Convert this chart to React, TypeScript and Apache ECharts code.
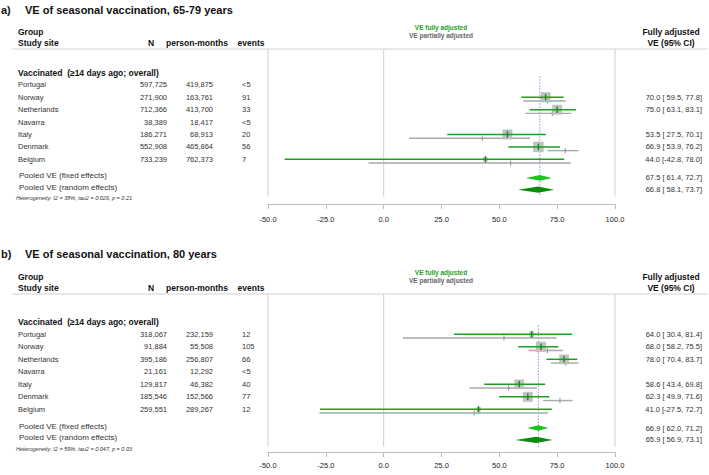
import React, { useEffect, useRef } from "react";
import * as echarts from "echarts";

// ---------- data ----------
const sites = ["Portugal", "Norway", "Netherlands", "Navarra", "Italy", "Denmark", "Belgium"];
const panelTitles = ["VE of seasonal vaccination, 65-79 years", "VE of seasonal vaccination, 80 years"];
const panelLetters = ["a)", "b)"];
const xTicks = [-50, -25, 0, 25, 50, 75, 100];

// panel a (65-79 years)
const nA = [597725, 271900, 712366, 38389, 186271, 552908, 733239];
const pmA = [419875, 163761, 413700, 18417, 68913, 465864, 762373];
const evA = ["<5", "91", "33", "<5", "20", "56", "7"];
const fullEstA = [null, 70.0, 75.0, null, 53.5, 66.9, 44.0];
const fullLoA = [null, 59.5, 63.1, null, 27.5, 53.9, -42.8];
const fullHiA = [null, 77.8, 83.1, null, 70.1, 76.2, 78.0];
const partEstA = [null, 70.9, 72.9, null, 42.6, 78.5, 54.9];
const partLoA = [null, 60.4, 61.2, null, 11.0, 70.8, -6.5];
const partHiA = [null, 78.7, 81.1, null, 63.3, 84.2, 80.9];
const weightA = [null, 24, 23, null, 23, 26, 4];
const fixedA = [67.5, 61.4, 72.7];
const randomA = [66.8, 58.1, 73.7];
const hetA = "Heterogeneity: I2 = 38%, tau2 = 0.026, p = 0.21";

// panel b (80 years)
const nB = [318067, 91884, 395186, 21161, 129817, 185546, 259551];
const pmB = [232159, 55508, 256807, 12292, 46382, 152566, 289267];
const evB = ["12", "105", "66", "<5", "40", "77", "12"];
const fullEstB = [64.0, 68.0, 78.0, null, 58.6, 62.3, 41.0];
const fullLoB = [30.4, 58.2, 70.4, null, 43.4, 49.9, -27.5];
const fullHiB = [81.4, 75.5, 83.7, null, 69.8, 71.6, 72.7];
const partEstB = [52.0, 70.8, 78.8, null, 54.0, 76.2, 39.1];
const partLoB = [8.3, 62.7, 72.3, null, 37.0, 69.0, -27.8];
const partHiB = [74.8, 77.4, 84.2, null, 66.3, 81.7, 71.0];
const weightB = [5.5, 23.6, 21.6, null, 21.6, 23.6, 4];
const fixedB = [66.9, 62.0, 71.2];
const randomB = [65.9, 56.9, 73.1];
const hetB = "Heterogeneity: I2 = 59%, tau2 = 0.047, p = 0.03";

// ---------- layout ----------
const FONT = "'Liberation Sans', Arial, Helvetica, sans-serif";
const GREEN = "#1f9e1f";
const layouts = [
  { title: 10, legend1: 27, legend2: 35, head1: 32, head2: 43, hline: 49, row0: 72.5, step: 12.4, axisY: 204, labelMargin: 11 },
  { title: 254, legend1: 272, legend2: 280, head1: 277, head2: 288, hline: 294, row0: 321.8, step: 12.5, axisY: 452, labelMargin: 9 },
];
const PLOT_LEFT = 268;
const PLOT_WIDTH = 347;
const ROW_FIXED = 8.5;
const ROW_RANDOM = 9.45;
const ROW_HET = 10.15;
const ROW_LINE_END = 10.0;
const ROW_REF_START = 0.3;

const panels = [
  { n: nA, pm: pmA, ev: evA, fe: fullEstA, fl: fullLoA, fh: fullHiA, pe: partEstA, pl: partLoA, ph: partHiA, w: weightA, fixed: fixedA, random: randomA, het: hetA },
  { n: nB, pm: pmB, ev: evB, fe: fullEstB, fl: fullLoB, fh: fullHiB, pe: partEstB, pl: partLoB, ph: partHiB, w: weightB, fixed: fixedB, random: randomB, het: hetB },
];

const fmtN = (v: number) => v.toLocaleString("en-US");
const fmtCI = (e: number, l: number, h: number) =>
  `${e.toFixed(1)} [${l < 0 ? "" : " "}${l.toFixed(1)}, ${h.toFixed(1)}]`;

function txt(text: string, x: number, y: number, font: string, fill = "#222", align = "left") {
  return {
    type: "text",
    x,
    y,
    silent: true,
    style: { text, font, fill, align, verticalAlign: "middle" },
  };
}

function buildOption() {
  const grids: any[] = [];
  const xAxes: any[] = [];
  const yAxes: any[] = [];
  const series: any[] = [];
  const graphics: any[] = [];

  panels.forEach((p, pi) => {
    const L = layouts[pi];
    const rowY = (r: number) => L.row0 + r * L.step;
    const yMin = (L.hline - L.row0) / L.step;
    const yMax = (L.axisY - L.row0) / L.step;

    grids.push({ left: PLOT_LEFT, width: PLOT_WIDTH, top: L.hline, height: L.axisY - L.hline, containLabel: false });
    xAxes.push({
      gridIndex: pi,
      type: "value",
      min: xTicks[0],
      max: xTicks[xTicks.length - 1],
      interval: xTicks[1] - xTicks[0],
      position: "bottom",
      axisLine: { show: true, onZero: false, lineStyle: { color: "#bdbdbd", width: 1 } },
      axisTick: { show: true, length: 5, lineStyle: { color: "#bdbdbd", width: 1 } },
      axisLabel: {
        show: true,
        margin: L.labelMargin,
        fontSize: 7.5,
        fontFamily: FONT,
        color: "#222",
        formatter: (v: number) => v.toFixed(1),
      },
      splitLine: { show: false },
    });
    yAxes.push({ gridIndex: pi, type: "value", show: false, inverse: true, min: yMin, max: yMax });

    // reference vertical lines: plot borders and no-effect line
    series.push({
      type: "custom",
      xAxisIndex: pi,
      yAxisIndex: pi,
      silent: true,
      clip: false,
      data: [
        [xTicks[0], yMin, ROW_LINE_END],
        [0, yMin, ROW_LINE_END],
        [xTicks[xTicks.length - 1], yMin, ROW_LINE_END],
      ],
      renderItem: (_params: any, api: any) => {
        const a = api.coord([api.value(0), api.value(1)]);
        const b = api.coord([api.value(0), api.value(2)]);
        return {
          type: "line",
          shape: { x1: a[0], y1: a[1], x2: b[0], y2: b[1] },
          style: { stroke: "#cfcfcf", lineWidth: 1 },
        };
      },
    });
    // pooled estimate dotted line
    series.push({
      type: "custom",
      xAxisIndex: pi,
      yAxisIndex: pi,
      silent: true,
      clip: false,
      data: [[p.fixed[0], ROW_REF_START, ROW_LINE_END]],
      renderItem: (_params: any, api: any) => {
        const a = api.coord([api.value(0), api.value(1)]);
        const b = api.coord([api.value(0), api.value(2)]);
        return {
          type: "line",
          shape: { x1: a[0], y1: a[1], x2: b[0], y2: b[1] },
          style: { stroke: "#8f8fe0", lineWidth: 1, lineDash: [1.5, 1.5] },
        };
      },
    });

    // studies
    const studyData: any[] = [];
    sites.forEach((_s, i) => {
      if (p.fe[i] == null) return;
      studyData.push([i + 1, p.fe[i], p.fl[i], p.fh[i], p.pe[i], p.pl[i], p.ph[i], p.w[i]]);
    });
    series.push({
      type: "custom",
      xAxisIndex: pi,
      yAxisIndex: pi,
      silent: true,
      clip: false,
      data: studyData,
      renderItem: (_params: any, api: any) => {
        const r = api.value(0);
        const off = 0.3;
        const fE = api.coord([api.value(1), r]);
        const fL = api.coord([api.value(2), r]);
        const fH = api.coord([api.value(3), r]);
        const pE = api.coord([api.value(4), r + off]);
        const pL = api.coord([api.value(5), r + off]);
        const pH = api.coord([api.value(6), r + off]);
        const side = Math.sqrt(api.value(7)) * 1.9;
        return {
          type: "group",
          children: [
            { type: "line", shape: { x1: pL[0], y1: pL[1], x2: pH[0], y2: pH[1] }, style: { stroke: "#a9a9a9", lineWidth: 1.4 } },
            { type: "line", shape: { x1: pE[0], y1: pE[1] - 2.6, x2: pE[0], y2: pE[1] + 2.6 }, style: { stroke: "#8f8f8f", lineWidth: 1 } },
            { type: "rect", shape: { x: fE[0] - side / 2, y: fE[1] - side / 2, width: side, height: side }, style: { fill: "#c2c2c2", stroke: "#b4b4b4", lineWidth: 0.6 } },
            { type: "line", shape: { x1: fL[0], y1: fL[1], x2: fH[0], y2: fH[1] }, style: { stroke: GREEN, lineWidth: 1.5 } },
            { type: "line", shape: { x1: fE[0], y1: fE[1] - 3.2, x2: fE[0], y2: fE[1] + 3.2 }, style: { stroke: "#158a15", lineWidth: 1.4 } },
          ],
        };
      },
    });

    // pooled diamonds
    series.push({
      type: "custom",
      xAxisIndex: pi,
      yAxisIndex: pi,
      silent: true,
      clip: false,
      data: [
        [ROW_FIXED, p.fixed[0], p.fixed[1], p.fixed[2], 0],
        [ROW_RANDOM, p.random[0], p.random[1], p.random[2], 1],
      ],
      renderItem: (_params: any, api: any) => {
        const r = api.value(0);
        const e = api.coord([api.value(1), r]);
        const l = api.coord([api.value(2), r]);
        const h = api.coord([api.value(3), r]);
        const kind = api.value(4);
        const hh = kind === 0 ? 2.8 : 3.1;
        return {
          type: "polygon",
          shape: { points: [[l[0], l[1]], [e[0], e[1] - hh], [h[0], h[1]], [e[0], e[1] + hh]] },
          style: { fill: kind === 0 ? "#1cc41c" : "#0b8c0b" },
        };
      },
    });

    // ---------- table text ----------
    const bold = (s: number) => `bold ${s}px ${FONT}`;
    const reg = (s: number) => `${s}px ${FONT}`;
    graphics.push(txt(panelLetters[pi], 1, L.title, bold(11), "#111"));
    graphics.push(txt(panelTitles[pi], 25, L.title, bold(11), "#111"));
    graphics.push(txt("Group", 18, L.head1, bold(8.5), "#111"));
    graphics.push(txt("Study site", 18, L.head2, bold(8.5), "#111"));
    graphics.push(txt("N", 151, L.head2, bold(8.5), "#111", "center"));
    graphics.push(txt("person-months", 197, L.head2, bold(8.5), "#111", "center"));
    graphics.push(txt("events", 251, L.head2, bold(8.5), "#111", "center"));
    graphics.push(txt("VE fully adjusted", 441, L.legend1, bold(6.5), GREEN, "center"));
    graphics.push(txt("VE partially adjusted", 441, L.legend2, bold(6.5), "#666", "center"));
    graphics.push(txt("Fully adjusted", 671, L.head1, bold(8.5), "#111", "center"));
    graphics.push(txt("VE (95% CI)", 671, L.head2, bold(8.5), "#111", "center"));
    graphics.push({
      type: "line",
      silent: true,
      shape: { x1: 12, y1: L.hline, x2: 708, y2: L.hline },
      style: { stroke: "#d2d2d2", lineWidth: 1 },
    });
    graphics.push(txt("Vaccinated  (\u226514 days ago; overall)", 18, rowY(0), bold(8.5), "#111"));
    sites.forEach((s, i) => {
      const y = rowY(i + 1);
      graphics.push(txt(s, 18, y, reg(7.5), "#333"));
      graphics.push(txt(fmtN(p.n[i]), 167, y, reg(7.5), "#333", "right"));
      graphics.push(txt(fmtN(p.pm[i]), 213, y, reg(7.5), "#333", "right"));
      graphics.push(txt(p.ev[i], 242, y, reg(7.5), "#333"));
      if (p.fe[i] != null) {
        graphics.push(txt(fmtCI(p.fe[i] as number, p.fl[i] as number, p.fh[i] as number), 702, y, reg(7.5), "#333", "right"));
      }
    });
    graphics.push(txt("Pooled VE (fixed effects)", 19, rowY(ROW_FIXED) - 2, reg(8), "#333"));
    graphics.push(txt("Pooled VE (random effects)", 19, rowY(ROW_RANDOM) - 2, reg(8), "#333"));
    graphics.push(txt(fmtCI(p.fixed[0], p.fixed[1], p.fixed[2]), 702, rowY(ROW_FIXED), reg(7.5), "#333", "right"));
    graphics.push(txt(fmtCI(p.random[0], p.random[1], p.random[2]), 702, rowY(ROW_RANDOM), reg(7.5), "#333", "right"));
    graphics.push(txt(p.het, 16, rowY(ROW_HET), `italic ${5.5}px ${FONT}`, "#333"));
  });

  return {
    animation: false,
    backgroundColor: "#ffffff",
    textStyle: { fontFamily: FONT },
    grid: grids,
    xAxis: xAxes,
    yAxis: yAxes,
    series,
    graphic: { elements: graphics },
  };
}

export default function App() {
  const ref = useRef<HTMLDivElement>(null);
  useEffect(() => {
    if (!ref.current) return;
    const chart = echarts.init(ref.current, undefined, { renderer: "svg" });
    chart.setOption(buildOption() as any);
    return () => chart.dispose();
  }, []);
  return (
    <div
      ref={ref}
      style={{ position: "fixed", left: 0, top: 0, width: 709, height: 475, background: "#fff" }}
    />
  );
}
